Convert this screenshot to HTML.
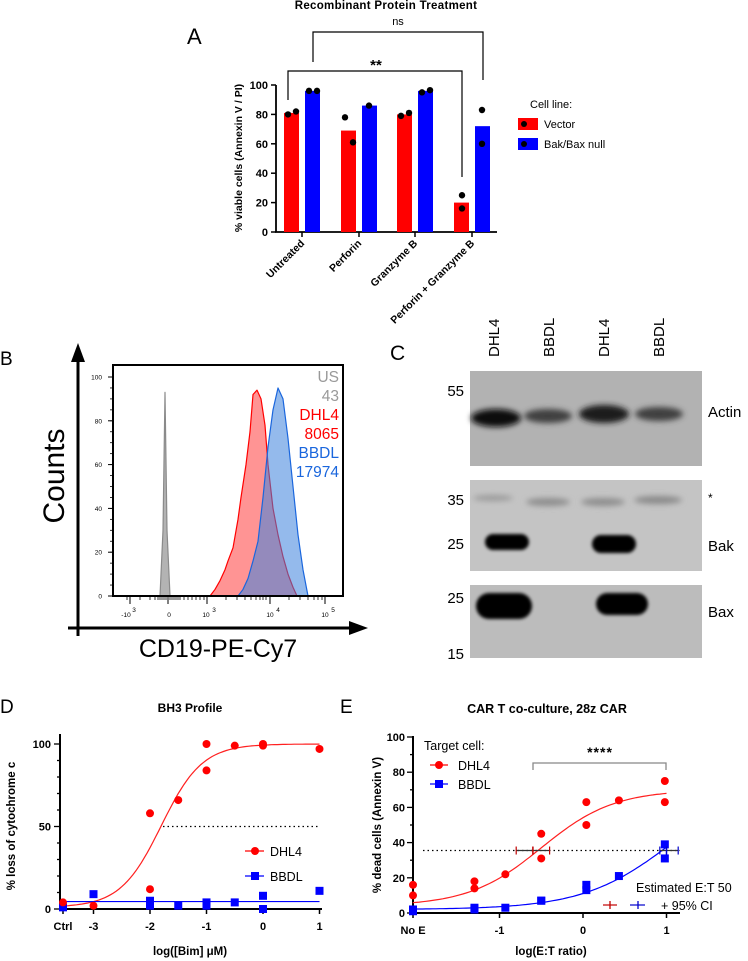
<!DOCTYPE html>
<html><head><meta charset="utf-8">
<style>
body{margin:0;background:#fff;}
svg{display:block;font-family:"Liberation Sans",Arial,sans-serif;}
.b{font-weight:bold;}
</style></head>
<body>
<svg id="fig" width="748" height="961" viewBox="0 0 748 961" xmlns="http://www.w3.org/2000/svg">
<defs>
<filter id="blur3" x="-30%" y="-100%" width="160%" height="300%"><feGaussianBlur stdDeviation="3"/></filter>
<filter id="blur1" x="-30%" y="-100%" width="160%" height="300%"><feGaussianBlur stdDeviation="1.5"/></filter>
</defs>
<g id="panelA"></g>
<g id="panelB"></g>
<g id="panelC"></g>
<g id="panelD"></g>
<g id="panelE"></g>
</svg>
<script>
// ---------- Panel A data ----------
const aCategories = ["Untreated","Perforin","Granzyme B","Perforin + Granzyme B"];
const aVectorBars = [81,69,80,20];
const aNullBars = [96,86,96,72];
const aVectorDots = [[80,82],[78,61],[79,81],[25,16]];
const aNullDots = [[96,96],[86],[95,96.5],[83,60]];
const aTicks = [0,20,40,60,80,100];
// ---------- Panel B data ----------
const bRedX = [97,102,107,112,115,120,125,128,133,137,140,144,148,152,155,160,165,170,175,180,184];
const bRedY = [0,3,7,12,16,22,35,45,60,75,92,94,90,78,60,40,28,18,10,4,0];
const bBlueX = [125,130,135,140,145,150,155,160,165,170,175,180,185,190,195];
const bBlueY = [0,3,8,16,25,45,68,85,95,90,72,50,28,12,0];
const bGrayX = [47,50,52,54,57];
const bGrayY = [0,30,93,30,0];
const bTicks = [0,20,40,60,80,100];
// ---------- Panel D data ----------
const dX = ["ctrl",-3,-2,-2,-1.5,-1,-1,-0.5,0,0,1];
const dDHL4 = [4,2,58,12,66,100,84,99,100,99,97];
const dBBDL = [1,9,5,2,2,4,2,4,8,0,11];
const dXTicks = ["Ctrl","-3","-2","-1","0","1"];
const dYTicks = [0,50,100];
const dFitDHL4 = [1,100,-1.8,1.2]; // bottom, top, logEC50, hill
const dFitBBDL = [4.5];
// ---------- Panel E data ----------
const eX = ["noE","noE",-1.3,-1.3,-0.93,-0.5,-0.5,0.04,0.04,0.43,0.98,0.98];
const eDHL4 = [16,10,18,14,22,45,31,63,50,64,75,63];
const eBBDL = [2,1,3,2,3,7,7,16,13,21,39,31];
const eXTicks = ["No E","-1","0","1"];
const eYTicks = [0,20,40,60,80,100];
const eFitDHL4 = [4,70,-0.5,1];
const eFitBBDL = [2,80,1.1,0.8];
const eEC50 = [[-0.6,-0.8,-0.4],[1,0.92,1.14]];
const eEC50Level = 35.5;

const NS="http://www.w3.org/2000/svg";
function mk(tag,parent,attrs,text){const e=document.createElementNS(NS,tag);for(const k in attrs)e.setAttribute(k,attrs[k]);if(text!==undefined)e.textContent=text;parent.appendChild(e);return e;}

// ================= PANEL A =================
(function(){
const g=document.getElementById('panelA');
const ya=v=>232-v*1.47;
const cx=[302,359,415,472];
let t;
t=mk('text',g,{x:187,y:44,'font-size':22});t.textContent='A';

t=mk('text',g,{x:386,y:9,'font-size':11.5,'text-anchor':'middle',class:'b','letter-spacing':'0.3'});t.textContent='Recombinant  Protein  Treatment';

let ax=mk('line',g,{x1:276,y1:85,x2:276,y2:232.5,stroke:'#000','stroke-width':1.8});

ax=mk('line',g,{x1:275,y1:232,x2:497,y2:232,stroke:'#000','stroke-width':1.8});

aTicks.forEach(v=>{mk('line',g,{x1:271,y1:ya(v),x2:276,y2:ya(v),stroke:'#000','stroke-width':1.5});
 const l=mk('text',g,{x:268,y:ya(v)+4,'font-size':11,'text-anchor':'end',class:'b'},String(v));
 });
t=mk('text',g,{x:0,y:0,'font-size':10.5,'text-anchor':'middle',class:'b',transform:'translate(242,158) rotate(-90)'},'% viable cells (Annexin  V / PI)');

aCategories.forEach((c,i)=>{
 const x=cx[i];
 mk('line',g,{x1:x,y1:232,x2:x,y2:237,stroke:'#000','stroke-width':1.5});
 const l=mk('text',g,{x:0,y:0,'font-size':10.5,'text-anchor':'end',class:'b',transform:`translate(${x+3},${244}) rotate(-45)`},c);
 
 const r=mk('rect',g,{x:x-18,y:ya(aVectorBars[i]),width:15,height:232-ya(aVectorBars[i]),fill:'#ff0000'});
 
 const b=mk('rect',g,{x:x+3,y:ya(aNullBars[i]),width:15,height:232-ya(aNullBars[i]),fill:'#0000ff'});
 
 aVectorDots[i].forEach((v,j)=>{const d=mk('circle',g,{cx:aVectorDots[i].length>1?(i==3?x-10:x-14+j*8):x-10,cy:ya(v),r:3.2,fill:'#000'});
  });
 aNullDots[i].forEach((v,j)=>{const d=mk('circle',g,{cx:aNullDots[i].length>1?(i==3?x+10:x+7+j*8):x+10,cy:ya(v),r:3.2,fill:'#000'});
  });
});
let p=mk('path',g,{d:'M288,100 V71 H462 V177',fill:'none',stroke:'#000','stroke-width':1.2});

t=mk('text',g,{x:376,y:70,'font-size':15,'text-anchor':'middle',class:'b'},'**');

p=mk('path',g,{d:'M313,62 V32 H483 V80',fill:'none',stroke:'#000','stroke-width':1.2});

t=mk('text',g,{x:398,y:25,'font-size':11,'text-anchor':'middle'},'ns');

t=mk('text',g,{x:530,y:108,'font-size':11},'Cell line:');

[['#ff0000','Vector',124],['#0000ff','Bak/Bax null',144]].forEach(([c,n,y])=>{
 const s=mk('rect',g,{x:518,y:y-6,width:20,height:12,fill:c});
 
 mk('circle',g,{cx:524,cy:y,r:3,fill:'#000'});
 const l=mk('text',g,{x:544,y:y+4,'font-size':11},n);
 });
})();

// ================= PANEL B =================
(function(){
const g=document.getElementById('panelB');
const bx=c=>113+c, by=v=>596-v*2.19;
let t=mk('text',g,{x:0,y:365,'font-size':19},'B');

function hist(xs,ys,fill,stroke,name){
 let d='M'+bx(xs[0])+','+by(0);
 xs.forEach((x,i)=>d+=' L'+bx(x)+','+by(ys[i]));
 d+=' L'+bx(xs[xs.length-1])+','+by(0)+'Z';
 const p=mk('path',g,{d:d,fill:fill,stroke:stroke,'stroke-width':1.2,'stroke-linejoin':'round'});
 }
hist(bGrayX,bGrayY,'#b3b3b3','#8a8a8a','histogram-us');
hist(bRedX,bRedY,'rgba(255,60,60,0.55)','#ff0000','histogram-dhl4');
hist(bBlueX,bBlueY,'rgba(60,130,220,0.55)','#1a66dd','histogram-bbdl');
let r=mk('rect',g,{x:113,y:365,width:230,height:231,fill:'none',stroke:'#000','stroke-width':2});

bTicks.forEach(v=>{mk('line',g,{x1:108,y1:by(v),x2:113,y2:by(v),stroke:'#000','stroke-width':1});
 const l=mk('text',g,{x:102,y:by(v)+2.5,'font-size':6.5,'text-anchor':'end'},String(v));
 });
for(let v=0;v<=100;v+=5){mk('line',g,{x1:110,y1:by(v),x2:113,y2:by(v),stroke:'#000','stroke-width':0.8});}
[127,140,150,155,158,160,162,164,166,168,170,172,174,176,178,180,184,188,192,196,200,204,207,226,237,245,251,256,260,263,266,270,289,300,308,314,318,322,325].forEach(x=>mk('line',g,{x1:x,y1:596,x2:x,y2:600,stroke:'#000','stroke-width':0.8}));
[130,168,207,270,325].forEach(x=>mk('line',g,{x1:x,y1:596,x2:x,y2:604,stroke:'#000','stroke-width':1}));
[['-10',126,'3'],['0',169,''],['10',206,'3'],['10',270,'4'],['10',325,'5']].forEach(([s,x,e])=>{
 const l=mk('text',g,{x:x,y:617,'font-size':6.5,'text-anchor':'middle'},s);
 if(e){mk('text',g,{x:x+8,y:612,'font-size':6.5,'text-anchor':'middle'},e);}
 });
mk('line',g,{x1:78,y1:352,x2:78,y2:636,stroke:'#000','stroke-width':3});
mk('path',g,{d:'M78,343 L71,362 L85,362Z',fill:'#000'});
mk('line',g,{x1:68,y1:628,x2:355,y2:628,stroke:'#000','stroke-width':3});
mk('path',g,{d:'M368,628 L349,621 L349,635Z',fill:'#000'});
t=mk('text',g,{x:0,y:0,'font-size':30,'text-anchor':'middle',transform:'translate(64,476) rotate(-90)'},'Counts');

t=mk('text',g,{x:218,y:657,'font-size':25,'text-anchor':'middle'},'CD19-PE-Cy7');

[['US','#999',382],['43','#999',401],['DHL4','#ff0000',420],['8065','#ff0000',439],['BBDL','#1a66dd',458],['17974','#1a66dd',477]].forEach(([s,c,y])=>{
 const l=mk('text',g,{x:339,y:y,'font-size':15.5,'text-anchor':'end',fill:c},s);
 });
})();

// ================= PANEL C =================
(function(){
const g=document.getElementById('panelC');
let t=mk('text',g,{x:390,y:360,'font-size':21},'C');

const lanes=[493,548,603,658], lab=['DHL4','BBDL','DHL4','BBDL'];
lanes.forEach((x,i)=>{const l=mk('text',g,{x:0,y:0,'font-size':15,transform:`translate(${x+6},357) rotate(-90)`},lab[i]);
 });
const boxes=[[371,466,'#b2b2b2','actin-blot'],[480,571,'#c4c4c4','bak-blot'],[585,658,'#bcbcbc','bax-blot']];
boxes.forEach(([y1,y2,c,n])=>{const r=mk('rect',g,{x:470,y:y1,width:232,height:y2-y1,fill:c});
 });
[[496,418,25,9,'#0a0a0a'],[548,416,24,7,'#404040'],[604,414,25,9,'#1a1a1a'],[659,414,24,7,'#404040'],
 [493,498,20,3,'#9a9a9a'],[548,502,22,4,'#8e8e8e'],[603,502,22,4,'#8e8e8e'],[658,500,24,4,'#8a8a8a']].forEach(b=>{
 const e=mk('ellipse',g,{cx:b[0],cy:b[1],rx:b[2],ry:b[3],fill:b[4],filter:'url(#blur3)'});
 });
[[507,542,22,8],[614,544,22,9],[504,606,28,13],[622,604,26,11]].forEach(b=>{
 const e=mk('rect',g,{x:b[0]-b[2],y:b[1]-b[3],width:2*b[2],height:2*b[3],rx:b[3],fill:'#000',filter:'url(#blur1)'});
 });
[['55',396],['35',505],['25',549],['25',603],['15',659]].forEach(([s,y])=>{
 const l=mk('text',g,{x:464,y:y,'font-size':15,'text-anchor':'end'},s);
 });
[['Actin',417],['*',502],['Bak',551],['Bax',617]].forEach(([s,y])=>{
 const l=mk('text',g,{x:708,y:y,'font-size':s=='*'?12:15},s);
 });
})();

// ================= PANEL D =================
(function(){
const g=document.getElementById('panelD');
const xd=v=>v==="ctrl"?63:263+v*56.5, yd=v=>909-v*1.65;
let t=mk('text',g,{x:0,y:713,'font-size':19},'D');

t=mk('text',g,{x:190,y:712,'font-size':12,'text-anchor':'middle',class:'b'},'BH3 Profile');

mk('line',g,{x1:60,y1:734,x2:60,y2:910,stroke:'#000','stroke-width':2});
mk('line',g,{x1:59,y1:909,x2:322,y2:909,stroke:'#000','stroke-width':2});
for(let v=0;v<=100;v+=10)mk('line',g,{x1:v%50==0?54:57,y1:yd(v),x2:60,y2:yd(v),stroke:'#000','stroke-width':1.3});
dYTicks.forEach(v=>{const l=mk('text',g,{x:51,y:yd(v)+4,'font-size':11,'text-anchor':'end',class:'b'},String(v));
 });
const tv=["ctrl",-3,-2,-1,0,1];
tv.forEach((v,i)=>{mk('line',g,{x1:xd(v),y1:909,x2:xd(v),y2:914,stroke:'#000','stroke-width':1.5});
 const l=mk('text',g,{x:xd(v),y:930,'font-size':11,'text-anchor':'middle',class:'b'},dXTicks[i]);
 });
t=mk('text',g,{x:190,y:955,'font-size':11.5,'text-anchor':'middle',class:'b'},'log([Bim] μM)');

t=mk('text',g,{x:0,y:0,'font-size':11.5,'text-anchor':'middle',class:'b',transform:'translate(15,826) rotate(-90)'},'% loss of cytochrome c');

mk('line',g,{x1:163,y1:yd(50),x2:320,y2:yd(50),stroke:'#000','stroke-width':1.2,'stroke-dasharray':'1.5,3'});
let d='';const [b0,t0,e0,h0]=dFitDHL4;
for(let x=-3.55;x<=1.001;x+=0.05){const y=b0+(t0-b0)/(1+Math.pow(10,(e0-x)*h0));d+=(d?' L':'M')+(263+x*56.5).toFixed(1)+','+yd(y).toFixed(1);}
let p=mk('path',g,{d:d,fill:'none',stroke:'#ff2020','stroke-width':1.2});

p=mk('line',g,{x1:63,y1:yd(dFitBBDL[0]),x2:xd(1),y2:yd(dFitBBDL[0]),stroke:'#0000ff','stroke-width':1.2});

dX.forEach((x,i)=>{
 const s=mk('rect',g,{x:xd(x)-4,y:yd(dBBDL[i])-4,width:8,height:8,fill:'#0000ff'});
 
 const c=mk('circle',g,{cx:xd(x),cy:yd(dDHL4[i]),r:4,fill:'#ff0000'});
 });
[['DHL4','#ff0000',851,'c'],['BBDL','#0000ff',876,'s']].forEach(([n,c,y,m])=>{
 mk('line',g,{x1:245,y1:y,x2:264,y2:y,stroke:c,'stroke-width':1.2});
 if(m=='c')mk('circle',g,{cx:255,cy:y,r:4,fill:c});else mk('rect',g,{x:251,y:y-4,width:8,height:8,fill:c});
 const l=mk('text',g,{x:270,y:y+5,'font-size':12.5},n);
 });
})();

// ================= PANEL E =================
(function(){
const g=document.getElementById('panelE');
const xe=v=>v==="noE"?413:583+v*83.5, ye=v=>913-v*1.76;
let t=mk('text',g,{x:340,y:713,'font-size':19},'E');

t=mk('text',g,{x:547,y:713,'font-size':12.5,'text-anchor':'middle',class:'b'},'CAR T co-culture, 28z CAR');

mk('line',g,{x1:413,y1:736,x2:413,y2:914,stroke:'#000','stroke-width':2});
mk('line',g,{x1:412,y1:913,x2:680,y2:913,stroke:'#000','stroke-width':2});
for(let v=0;v<=100;v+=10)mk('line',g,{x1:v%20==0?407:410,y1:ye(v),x2:413,y2:ye(v),stroke:'#000','stroke-width':1.3});
eYTicks.forEach(v=>{const l=mk('text',g,{x:405,y:ye(v)+4,'font-size':11,'text-anchor':'end',class:'b'},String(v));
 });
["noE",-1,0,1].forEach((v,i)=>{mk('line',g,{x1:xe(v),y1:913,x2:xe(v),y2:918,stroke:'#000','stroke-width':1.5});
 const l=mk('text',g,{x:xe(v),y:934,'font-size':11,'text-anchor':'middle',class:'b'},eXTicks[i]);
 });
t=mk('text',g,{x:551,y:955,'font-size':11.5,'text-anchor':'middle',class:'b'},'log(E:T ratio)');

t=mk('text',g,{x:0,y:0,'font-size':11.5,'text-anchor':'middle',class:'b',transform:'translate(381,825) rotate(-90)'},'% dead cells (Annexin V)');

mk('line',g,{x1:423,y1:ye(eEC50Level),x2:680,y2:ye(eEC50Level),stroke:'#000','stroke-width':1.2,'stroke-dasharray':'1.5,3'});
function fit(pr,col,name){let d='';const [b,tp,e,h]=pr;
 for(let x=-2.04;x<=1.001;x+=0.04){const y=b+(tp-b)/(1+Math.pow(10,(e-x)*h));d+=(d?' L':'M')+(583+x*83.5).toFixed(1)+','+ye(y).toFixed(1);}
 const p=mk('path',g,{d:d,fill:'none',stroke:col,'stroke-width':1.2});
 }
fit(eFitDHL4,'#ff2020','e-fit-dhl4');fit(eFitBBDL,'#0000ff','e-fit-bbdl');
eX.forEach((x,i)=>{
 const s=mk('rect',g,{x:xe(x)-4,y:ye(eBBDL[i])-4,width:8,height:8,fill:'#0000ff'});
 
 const c=mk('circle',g,{cx:xe(x),cy:ye(eDHL4[i]),r:4,fill:'#ff0000'});
 });
const ecCols=['#c00000','#0000cc'];
eEC50.forEach((e,i)=>{const y=ye(eEC50Level);
 mk('line',g,{x1:xe(e[1]),y1:y,x2:xe(e[2]),y2:y,stroke:'#333','stroke-width':1.2});
 [e[1],e[2]].forEach(v=>mk('line',g,{x1:xe(v),y1:y-4,x2:xe(v),y2:y+4,stroke:ecCols[i],'stroke-width':1.2}));
 const m=mk('line',g,{x1:xe(e[0]),y1:y-4,x2:xe(e[0]),y2:y+4,stroke:ecCols[i],'stroke-width':1.5});
 });
let p=mk('path',g,{d:'M533,770 V763 H666 V770',fill:'none',stroke:'#888','stroke-width':1.3});

t=mk('text',g,{x:600,y:757,'font-size':14,'text-anchor':'middle',class:'b','letter-spacing':'1'},'****');

t=mk('text',g,{x:424,y:750,'font-size':12.5},'Target cell:');

[['DHL4','#ff0000',765,'c'],['BBDL','#0000ff',784,'s']].forEach(([n,c,y,m])=>{
 mk('line',g,{x1:430,y1:y,x2:448,y2:y,stroke:c,'stroke-width':1.2});
 if(m=='c')mk('circle',g,{cx:439,cy:y,r:4,fill:c});else mk('rect',g,{x:435,y:y-4,width:8,height:8,fill:c});
 const l=mk('text',g,{x:458,y:y+5,'font-size':12.5},n);
 });
t=mk('text',g,{x:636,y:892,'font-size':12.5},'Estimated  E:T 50');

mk('line',g,{x1:603,y1:905,x2:617,y2:905,stroke:'#c00000','stroke-width':1.2});
mk('line',g,{x1:610,y1:901,x2:610,y2:909,stroke:'#c00000','stroke-width':1.3});
mk('line',g,{x1:630,y1:905,x2:645,y2:905,stroke:'#0000cc','stroke-width':1.2});
mk('line',g,{x1:638,y1:901,x2:638,y2:909,stroke:'#0000cc','stroke-width':1.3});
t=mk('text',g,{x:661,y:910,'font-size':12.5},'+ 95% CI');

})();
</script>
</body></html>
